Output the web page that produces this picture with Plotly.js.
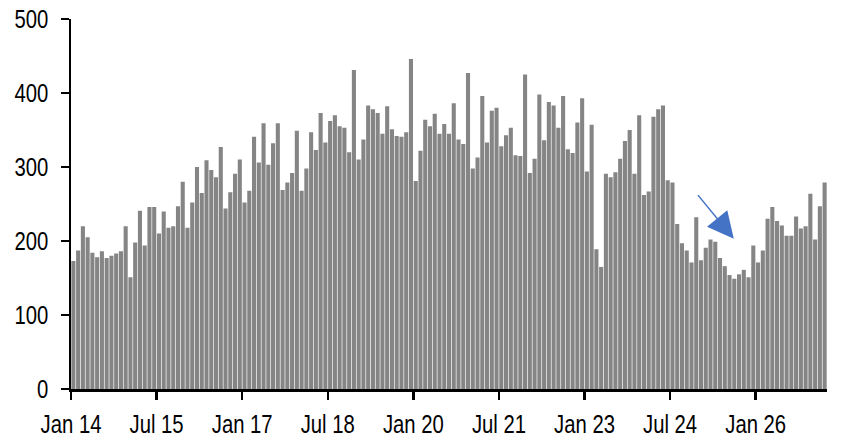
<!DOCTYPE html>
<html>
<head>
<meta charset="utf-8">
<script src="https://cdn.plot.ly/plotly-3.0.1.min.js"></script>
<style>html,body{margin:0;padding:0;background:#fff;}#chart{width:857px;height:447px;}</style>
</head>
<body>
<div id="chart"></div>
<script>
// Monthly values, Jan 2014 .. Mar 2027
const values = [
  173,187,220,205,184,178,186,177,180,183,186,220,
  151,198,241,194,246,246,210,240,218,220,247,280,
  218,252,300,265,309,296,286,327,244,266,291,310,
  252,268,341,306,359,303,332,359,269,279,292,349,
  268,298,347,323,373,333,362,370,355,353,320,431,
  310,337,383,378,373,345,382,351,342,341,347,446,
  281,322,364,355,372,345,358,345,386,337,331,427,
  298,313,396,333,376,380,328,343,353,316,315,425,
  292,311,398,336,388,383,353,396,324,319,360,393,
  294,357,189,165,291,286,293,311,335,350,291,370,
  262,267,368,378,383,282,279,223,197,187,171,232,
  174,191,202,199,177,166,154,149,155,161,151,194,
  171,187,230,246,227,221,207,207,233,217,220,264,
  202,247,279
];
const tickLabels = ['Jan 14','Jul 15','Jan 17','Jul 18','Jan 20','Jul 21','Jan 23','Jul 24','Jan 26'];
const tickStepMonths = 18;

const xIdx = values.map((v, i) => i);
const tickVals = tickLabels.map((t, k) => k * tickStepMonths - 0.5);

const trace = {
  type: 'bar',
  x: xIdx,
  y: values,
  marker: {color: '#858585', line: {width: 0}},
  hoverinfo: 'y'
};

const font = {family: '"Liberation Sans", Arial, sans-serif', size: 26, color: '#000'};

const layout = {
  width: 857, height: 447,
  margin: {l: 71, r: 30, t: 19, b: 58},
  paper_bgcolor: '#fff', plot_bgcolor: '#fff',
  bargap: 0.14,
  showlegend: false,
  font: font,
  xaxis: {
    range: [-0.5, values.length - 0.5],
    tickmode: 'array', tickvals: tickVals, ticktext: tickLabels,
    showgrid: false, zeroline: false,
    showline: true, linecolor: '#000', linewidth: 2.5,
    ticks: 'outside', ticklen: 8, tickwidth: 2.5, tickcolor: '#000',
    ticklabelstandoff: 2,
    tickfont: font, fixedrange: true
  },
  yaxis: {
    range: [0, 500],
    tickmode: 'array', tickvals: [0,100,200,300,400,500],
    showgrid: false, zeroline: false,
    showline: true, linecolor: '#000', linewidth: 2.5,
    ticks: 'outside', ticklen: 8, tickwidth: 2.5, tickcolor: '#000',
    ticklabelstandoff: 7,
    tickfont: font, fixedrange: true
  },
  annotations: [{
    x: 138.9, y: 203, xref: 'x', yref: 'y',
    ax: 131.1, ay: 264, axref: 'x', ayref: 'y',
    showarrow: true, arrowhead: 2, arrowsize: 3.5, arrowwidth: 1.5,
    arrowcolor: '#4472C4', text: ''
  }]
};

Plotly.newPlot('chart', [trace], layout, {staticPlot: true, displayModeBar: false}).then(gd => {
  // narrow the tick labels horizontally (reference uses a condensed face)
  gd.querySelectorAll('.xtick text, .ytick text').forEach(t => {
    const x = parseFloat(t.getAttribute('x') || '0');
    const tr = t.getAttribute('transform') || '';
    t.setAttribute('transform', tr + ' translate(' + x + ',0) scale(0.78,1) translate(' + (-x) + ',0)');
  });
});
</script>
</body>
</html>
